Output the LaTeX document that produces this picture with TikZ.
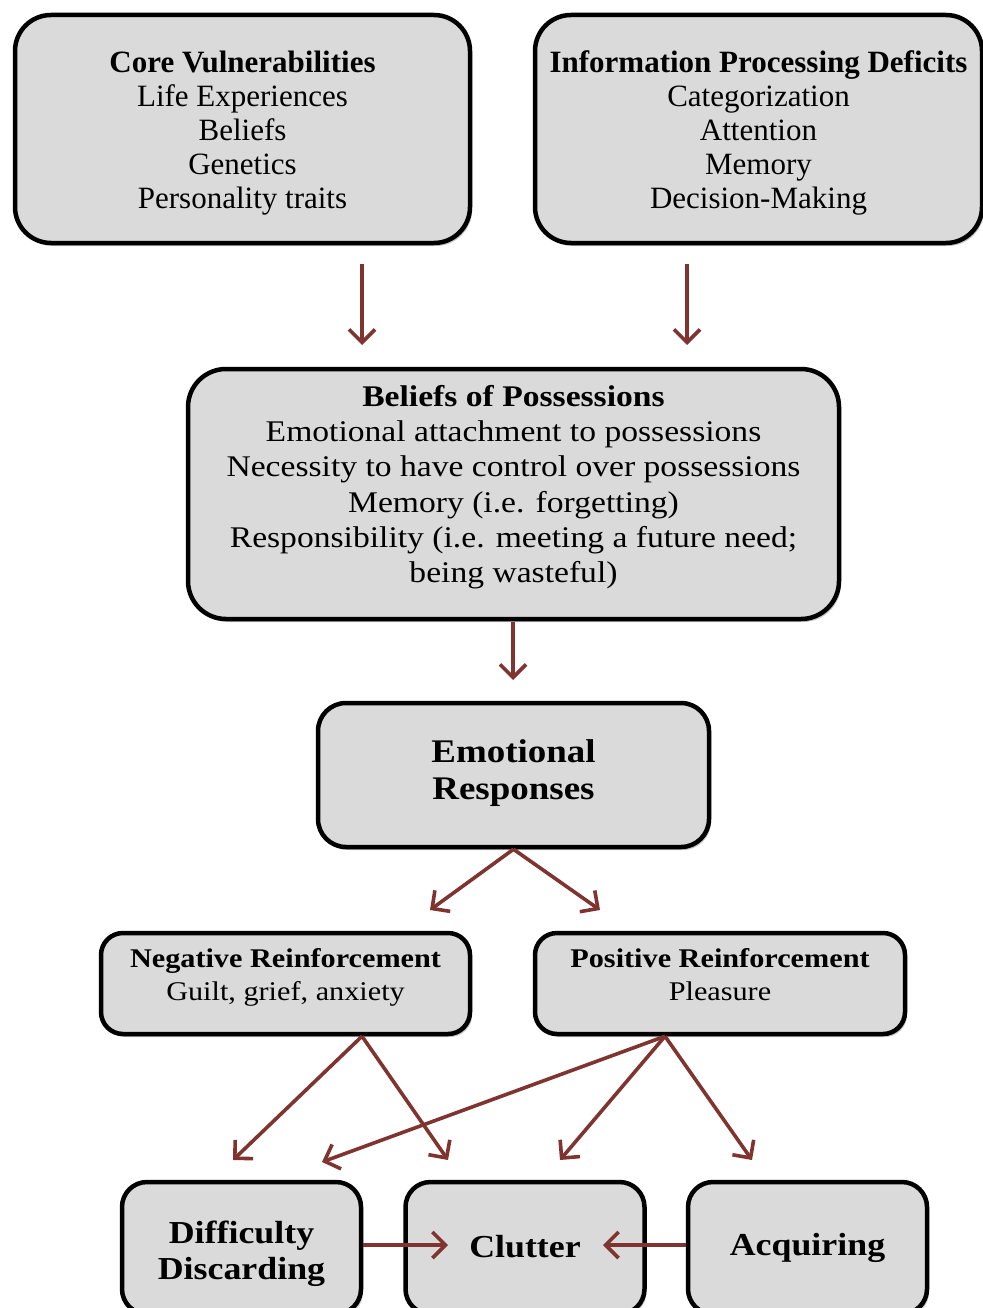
\documentclass[tikz,border=0pt]{standalone}
\usepackage{fontspec}
\setmainfont{Liberation Serif}
\newfontfamily\camb[FakeStretch=1.12]{Liberation Serif}
\usetikzlibrary{arrows.meta,shadows,calc}
\definecolor{boxgray}{RGB}{218,218,218}
\definecolor{arrred}{RGB}{127,52,47}
\begin{document}
\begin{tikzpicture}[x=1pt,y=-1pt,
  box/.style={draw=black, line width=4.5pt, fill=boxgray, align=center, inner sep=0pt,
    drop shadow={shadow xshift=2pt, shadow yshift=-3pt, opacity=0.45}},
  arr/.style={draw=arrred, line width=3.6pt, -{Straight Barb[length=13pt,width=26pt]}}]
\useasboundingbox (0,0) rectangle (982,1308);
% boxes
\node[box, minimum width=455pt, minimum height=228pt, rounded corners=36pt,
  font=\fontsize{31}{34}\selectfont] (core) at (242.5,129)
  {\rule{0pt}{30pt}\textbf{Core Vulnerabilities}\\Life Experiences\\Beliefs\\Genetics\\Personality traits};
\node[box, minimum width=447pt, minimum height=228pt, rounded corners=36pt,
  font=\fontsize{31}{34}\selectfont] (info) at (758.5,129)
  {\rule{0pt}{30pt}\textbf{Information Processing Deficits}\\Categorization\\Attention\\Memory\\Decision-Making};
\node[box, minimum width=651pt, minimum height=250pt, rounded corners=38pt,
  font=\camb\fontsize{30}{35.3}\selectfont] (bel) at (513.5,494)
  {\textbf{Beliefs of Possessions}\\Emotional attachment to possessions\\Necessity to have control over possessions\\Memory (i.e. forgetting)\\Responsibility (i.e. meeting a future need;\\being wasteful)\rule[-20pt]{0pt}{0pt}};
\node[box, minimum width=391pt, minimum height=144pt, rounded corners=28pt,
  font=\camb\bfseries\fontsize{33}{37}\selectfont] (emo) at (513.5,775)
  {Emotional\\Responses\rule[-10pt]{0pt}{0pt}};
\node[box, minimum width=369pt, minimum height=101pt, rounded corners=22pt,
  font=\camb\fontsize{27}{33}\selectfont] (neg) at (285.5,983.5)
  {\textbf{Negative Reinforcement}\\Guilt, grief, anxiety\rule[-18pt]{0pt}{0pt}};
\node[box, minimum width=370pt, minimum height=101pt, rounded corners=22pt,
  font=\camb\fontsize{27}{33}\selectfont] (pos) at (720,983.5)
  {\textbf{Positive Reinforcement}\\Pleasure\rule[-18pt]{0pt}{0pt}};
\node[box, minimum width=239pt, minimum height=132pt, rounded corners=25pt,
  font=\camb\bfseries\fontsize{32}{36}\selectfont] (diff) at (241.5,1248)
  {\rule{0pt}{34pt}Difficulty\\Discarding};
\node[box, minimum width=239pt, minimum height=132pt, rounded corners=25pt,
  font=\camb\bfseries\fontsize{32}{36}\selectfont] (clut) at (525,1248)
  {Clutter\rule[-4pt]{0pt}{0pt}};
\node[box, minimum width=239pt, minimum height=132pt, rounded corners=25pt,
  font=\camb\bfseries\fontsize{32}{36}\selectfont] (acq) at (807.5,1248)
  {Acquiring};
% arrow tips
\coordinate (t1) at (362,345);
\coordinate (t2) at (687,345);
\coordinate (t3) at (513,680);
\coordinate (t4) at (430,910);
\coordinate (t5) at (600,910);
\coordinate (t6) at (233,1160);
\coordinate (t7) at (448,1160);
\coordinate (t8) at (322,1162);
\coordinate (t9) at (560,1160);
\coordinate (t10) at (752,1160);
\coordinate (t11) at (448,1245);
\coordinate (t12) at (603,1245);
\coordinate (sn) at (362,1037);
\coordinate (sp) at (665,1037);
% connectors
\draw[arr, shorten <=19pt] (core.south -| t1) -- (t1);
\draw[arr, shorten <=19pt] (info.south -| t2) -- (t2);
\draw[arr, shorten <=1pt] (bel.south -| t3) -- (t3);
\draw[arr] (emo.south) -- (t4);
\draw[arr] (emo.south) -- (t5);
\draw[arr] (neg.south -| sn) -- (t6);
\draw[arr] (neg.south -| sn) -- (t7);
\draw[arr] (pos.south -| sp) -- (t8);
\draw[arr] (pos.south -| sp) -- (t9);
\draw[arr] (pos.south -| sp) -- (t10);
\draw[arr] (diff.east |- t11) -- (t11);
\draw[arr] (acq.west |- t12) -- (t12);
\end{tikzpicture}
\end{document}
